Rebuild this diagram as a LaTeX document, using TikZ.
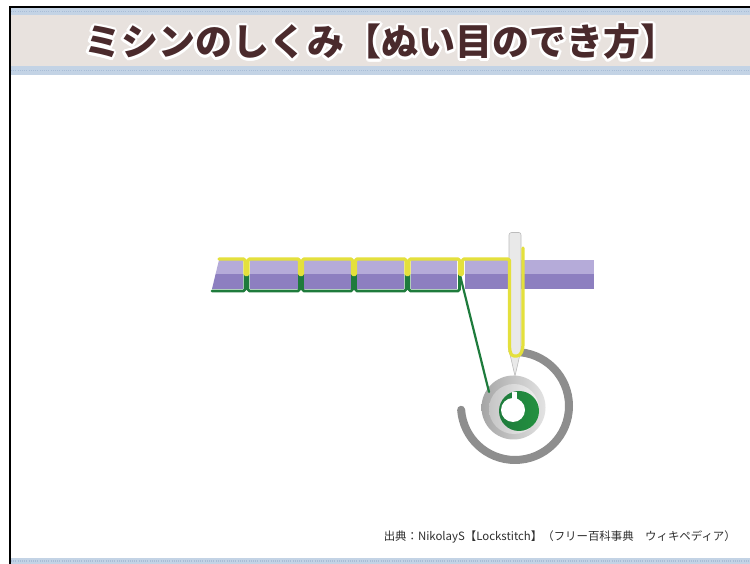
\documentclass[tikz,border=0pt]{standalone}
\usepackage{fontspec}
\usepackage{graphicx}
\newfontfamily\cjk{Noto Sans CJK JP}
\definecolor{headerbg}{HTML}{E8E2DE}
\definecolor{bandblue}{HTML}{C3D3E5}
\definecolor{banddot}{HTML}{A9BDD6}
\definecolor{titlebrown}{HTML}{4A2A2C}
\definecolor{purpleL}{HTML}{B5ABD9}
\definecolor{purpleD}{HTML}{8D7FC0}
\definecolor{threadY}{HTML}{E4E03C}
\definecolor{threadG}{HTML}{1E7B3C}
\definecolor{hookgray}{HTML}{8E8E8E}
\definecolor{needlefill}{HTML}{E9E9E9}
\definecolor{needleline}{HTML}{BCBCBC}
\definecolor{bobbinG}{HTML}{23913F}
\definecolor{captiongray}{HTML}{2E2E2E}
\tikzset{
  band/.style={fill=bandblue},
  banddots/.style={draw=banddot, line width=1.2pt, dash pattern=on 1pt off 1.2pt},
  titletext/.style={font=\cjk\bfseries\fontsize{37}{40}\selectfont, inner sep=0pt, anchor=west},
  upperthread/.style={draw=threadY, line width=3.2pt, rounded corners=1.5pt, line cap=round, line join=round},
  lowerthread/.style={draw=threadG, line width=2.8pt, rounded corners=1.5pt, line cap=round, line join=round},
  clothtop/.style={fill=purpleL},
  clothbottom/.style={fill=purpleD},
}
\begin{document}
\begin{tikzpicture}[x=1pt,y=1pt]
\useasboundingbox (0,0) rectangle (750,564);
\fill[white] (0,0) rectangle (750,564);

% header strip with dotted blue edges
\fill[headerbg] (11,489) rectangle (750,556);
\fill[band] (11,549) rectangle (750,556);
\draw[banddots] (11,552.5) -- (750,552.5);
\fill[band] (11,489) rectangle (750,498);
\draw[banddots] (11,493.5) -- (750,493.5);

% footer strip
\fill[band] (11,0) rectangle (750,6);
\draw[banddots] (11,3) -- (750,3);

% frame lines
\draw[line width=2.6pt] (10,0) -- (10,557) -- (750,557);

% title with white outline
\foreach \a in {0,22.5,...,337.5}
  \path (84,522) ++(\a:2.4) node[titletext, text=white] {ミシンのしくみ【ぬい目のでき方】};
\node[titletext, text=titlebrown] (title) at (84,522) {ミシンのしくみ【ぬい目のでき方】};

% fabric pieces between the stitches
\fill[clothbottom] (212,275) -- (243,275) -- (243,290) -- (215.6,290) -- cycle;
\fill[clothtop] (215.6,290) -- (243,290) -- (243,304) -- (219,304) -- cycle;
\foreach \l/\r in {250/298, 304/351, 357/404, 411/457, 465/508, 508/594} {
  \fill[clothbottom] (\l,275) rectangle (\r,290);
  \fill[clothtop] (\l,290) rectangle (\r,304);
}

% rotating hook
\draw[hookgray, line width=8pt, line cap=round] (515,212) arc[start angle=90, end angle=-176, radius=54];
\fill[hookgray] (515.5,216) -- (515.5,208) -- (508,213) -- cycle;

% bobbin case and bobbin
\shade[left color=gray!70, right color=gray!22] (513.5,156.5) circle[radius=32];
\shade[left color=gray!45, right color=gray!12] (514,155) circle[radius=25];
\shade[left color=threadG, right color=bobbinG] (519,153) circle[radius=20];
\fill[white] (513,154) circle[radius=12];
\fill[white] (511.5,163) rectangle (516.5,172);

% lower (bobbin) thread
\draw[lowerthread] (212,273) -- (245,273) -- (245,291) -- (248,291) -- (248,273)
  -- (299.5,273) -- (299.5,291) -- (302.5,291) -- (302.5,273)
  -- (352.5,273) -- (352.5,291) -- (355.5,291) -- (355.5,273)
  -- (406,273) -- (406,291) -- (409,291) -- (409,273)
  -- (459.5,273) -- (459.5,291);
\coordinate (gapmid) at (459.5,291);
\coordinate (bobbinedge) at (489,172);
\draw[threadG, line width=2.2pt, line cap=round] (gapmid) -- (bobbinedge);

% needle
\filldraw[fill=needlefill, draw=needleline, line width=0.6pt]
  (509,214) -- (509,329) to[out=90,in=180] (511.5,331.5) -- (519,331.5)
  to[out=0,in=90] (521,329) -- (521,214) -- (515,188) -- cycle;

% upper (needle) thread
\draw[upperthread] (219,305) -- (245,305) -- (245,289) -- (248,289) -- (248,305)
  -- (299.5,305) -- (299.5,289) -- (302.5,289) -- (302.5,305)
  -- (352.5,305) -- (352.5,289) -- (355.5,289) -- (355.5,305)
  -- (406,305) -- (406,289) -- (409,289) -- (409,305)
  -- (459.5,305) -- (459.5,289) -- (462.5,289) -- (462.5,305)
  -- (509.5,305) -- (509.5,222) to[out=-90,in=180] (515.5,208)
  to[out=0,in=-90] (523,221) -- (523,316);

% source note
\node[anchor=east, inner sep=0pt, text=captiongray] (source) at (736,27)
  {\resizebox{352pt}{!}{\cjk 出典：NikolayS【Lockstitch】（フリー百科事典　ウィキペディア）}};
\end{tikzpicture}
\end{document}
